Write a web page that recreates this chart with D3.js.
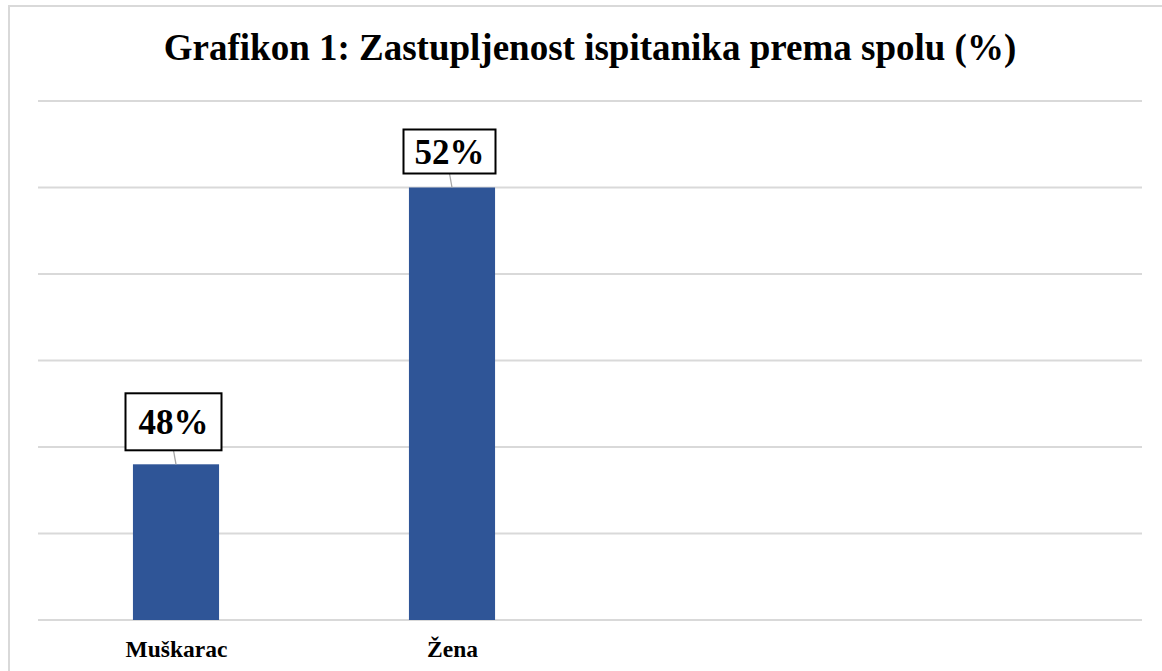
<!DOCTYPE html>
<html><head><meta charset="utf-8">
<script src="https://cdn.jsdelivr.net/npm/d3@7"></script>
<style>html,body{margin:0;padding:0;background:#fff;overflow:hidden}</style>
</head><body>
<svg id="c" width="1162" height="671"></svg>
<script>
const title = "Grafikon 1: Zastupljenost ispitanika prema spolu (%)";
const categories = ["Muškarac", "Žena"];
const values = [48, 52];
const valueLabels = ["48%", "52%"];
const slotCount = 4;
const yDomain = [45.75, 53.25];
const gridStep = 1.25;

const svg = d3.select("#c");
const serif = "'Liberation Serif','Times New Roman',serif";
const plot = {left: 38, right: 1142, top: 101, bottom: 620};

svg.append("rect").attr("x", 9).attr("y", 6).attr("width", 1200).attr("height", 700)
  .attr("fill", "#fff").attr("stroke", "#d9d9d9").attr("stroke-width", 2);

svg.append("text").attr("x", 590).attr("y", 60).attr("text-anchor", "middle")
  .attr("font-family", serif).attr("font-weight", "bold").attr("font-size", 37)
  .attr("fill", "#000").text(title);

const x = d3.scaleBand().domain(d3.range(slotCount)).range([plot.left, plot.right]);
const y = d3.scaleLinear().domain(yDomain).range([plot.bottom, plot.top]);

const grid = d3.range(yDomain[0], yDomain[1] + gridStep / 2, gridStep);
svg.append("g").selectAll("line").data(grid).join("line")
  .attr("x1", plot.left).attr("x2", plot.right)
  .attr("y1", d => y(d)).attr("y2", d => y(d))
  .attr("stroke", "#d9d9d9").attr("stroke-width", 2);

const barW = x.bandwidth() * 0.312;
const cx = i => x(i) + x.bandwidth() / 2;

svg.append("g").selectAll("rect").data(values).join("rect")
  .attr("x", (d, i) => cx(i) - barW / 2).attr("width", barW)
  .attr("y", d => y(d)).attr("height", d => plot.bottom - y(d))
  .attr("fill", "#2F5597");

// category labels
svg.append("g").selectAll("text").data(categories).join("text")
  .attr("x", (d, i) => cx(i) + 0.5).attr("y", 657).attr("text-anchor", "middle")
  .attr("font-family", serif).attr("font-weight", "bold").attr("font-size", 23.5)
  .attr("fill", "#000").text(d => d);

// data labels with boxes and leader lines
const boxH = [57, 44];
const boxW = [96, 92];
const lg = svg.append("g");
values.forEach((v, i) => {
  const bx = cx(i) - 2.5;
  const bottom = y(v) - 14;
  const top = bottom - boxH[i];
  lg.append("line").attr("x1", bx).attr("y1", bottom).attr("x2", cx(i)).attr("y2", y(v))
    .attr("stroke", "#a6a6a6").attr("stroke-width", 1.3);
  lg.append("rect").attr("x", bx - boxW[i] / 2).attr("y", top).attr("width", boxW[i]).attr("height", boxH[i])
    .attr("fill", "#fff").attr("stroke", "#000").attr("stroke-width", 2);
  lg.append("text").attr("x", bx).attr("y", (top + bottom) / 2 + 12).attr("text-anchor", "middle")
    .attr("font-family", serif).attr("font-weight", "bold").attr("font-size", 35)
    .attr("fill", "#000").text(valueLabels[i]);
});
</script>
</body></html>
